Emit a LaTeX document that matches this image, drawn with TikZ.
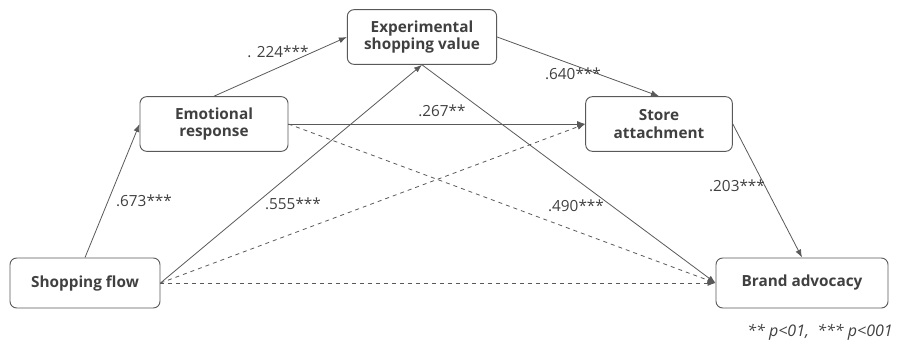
\documentclass[tikz,border=0pt]{standalone}
\usepackage{fontspec}
\setmainfont{Open Sans}
\usepackage{xcolor}
\usetikzlibrary{arrows.meta,positioning}
\definecolor{pmText}{HTML}{404040}
\definecolor{pmLine}{HTML}{595959}

\tikzset{
  construct/.style={draw=pmLine, rounded corners=5pt, align=center, text=pmText,
    font=\bfseries\fontsize{11.5}{13}\selectfont, inner sep=2pt, line width=0.7pt},
  coef/.style={text=pmText, font=\fontsize{11.5}{13}\selectfont, inner sep=1pt},
  path/.style={draw=pmLine, line width=0.6pt, -{Latex[length=6pt,width=4.5pt]}},
  nspath/.style={path, dashed}
}

\begin{document}
\begin{tikzpicture}[x=0.75pt, y=-0.75pt]
  \useasboundingbox (0,0) rectangle (916,347);

  % constructs
  \node[construct, minimum width=112.5pt, minimum height=37.5pt] (flow)  at (85,283)  {Shopping flow};
  \node[construct, minimum width=111pt,   minimum height=41pt]   (emo)   at (214,124) {Emotional\\response};
  \node[construct, minimum width=112pt,   minimum height=41pt]   (exp)   at (422,37)  {Experimental\\shopping value};
  \node[construct, minimum width=110pt,   minimum height=41pt]   (store) at (659,124) {Store\\attachment};
  \node[construct, minimum width=129pt,   minimum height=37.5pt] (brand) at (802,283) {Brand advocacy};

  % significant paths
  \draw[path] (flow.north) -- (emo.west);
  \draw[path] (emo.north) -- (exp.west);
  \draw[path] (flow.east) -- (exp.south);
  \draw[path] (emo.east) -- (store.west);
  \draw[path] (exp.east) -- (store.north);
  \draw[path] (exp.south) -- (brand.west);
  \draw[path] (store.east) -- (brand.north);

  % non-significant paths
  \draw[nspath] (flow.east) -- (store.west);
  \draw[nspath] (flow.east) -- (brand.west);
  \draw[nspath] (emo.east) -- (brand.west);

  % coefficients
  \node[coef] (c1) at (144,201) {.673***};
  \node[coef] (c2) at (278,52)  {. 224***};
  \node[coef] (c3) at (293,204) {.555***};
  \node[coef] (c4) at (442,111) {.267**};
  \node[coef] (c5) at (573,74)  {.640***};
  \node[coef] (c6) at (576,206) {.490***};
  \node[coef] (c7) at (737,186) {.203***};

  \node[coef, font=\itshape\fontsize{12}{14}\selectfont] (note) at (820,332) {** p<01,\ \ *** p<001};
\end{tikzpicture}
\end{document}
